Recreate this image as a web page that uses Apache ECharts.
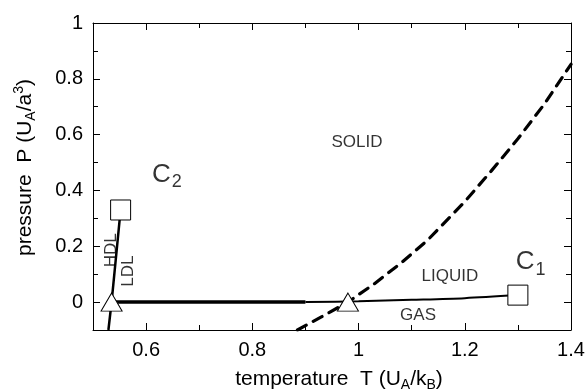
<!DOCTYPE html>
<html>
<head>
<meta charset="utf-8">
<script src="https://cdn.jsdelivr.net/npm/echarts@6/dist/echarts.min.js"></script>
<style>
  html, body { margin: 0; padding: 0; background: #fff; }
  #chart { width: 587px; height: 391px; }
</style>
</head>
<body>
<div id="chart"></div>
<script>
// liquid-gas coexistence line (thick part, then thin part up to C1)
const lgThick = [[0.535, 0], [0.9, 0]];
const lgThin = [[0.9, 0], [1.0, 0.003], [1.1, 0.008], [1.2, 0.014], [1.3, 0.025]];
// LDL-HDL coexistence line up to C2
const ldlHdl = [[0.529, -0.1], [0.535, 0], [0.552, 0.33]];
// melting line (dashed)
const melting = [
  [0.885, -0.1], [0.93, -0.053], [0.98, 0], [1.03, 0.066], [1.08, 0.14],
  [1.13, 0.222], [1.2, 0.36], [1.25, 0.47], [1.3, 0.585], [1.35, 0.71], [1.4, 0.852]
];
// critical points and triple points
const critical = [[1.3, 0.025], [0.552, 0.33]];
const triple = [[0.535, 0], [0.98, 0]];
// region labels: [x, y, text, rotate]
const regionLabels = [
  [0.997, 0.573, "SOLID", 0],
  [1.172, 0.093, "LIQUID", 0],
  [1.112, -0.047, "GAS", 0],
  [0.534, 0.186, "HDL", 90],
  [0.566, 0.111, "LDL", 90]
];
const critLabels = [
  [0.639, 0.45, "C", "2"],
  [1.324, 0.136, "C", "1"]
];

const FONT = "Liberation Sans";
const black = "#000";

const chart = echarts.init(document.getElementById("chart"), null, { renderer: "canvas" });

const nameRich = {
  n: { fontSize: 21, fontFamily: FONT, color: black, lineHeight: 26, verticalAlign: "middle" },
  sub: { fontSize: 14, fontFamily: FONT, color: black, lineHeight: 14, verticalAlign: "bottom" },
  sup: { fontSize: 14, fontFamily: FONT, color: black, lineHeight: 14, verticalAlign: "top" }
};

function majorAxis(pos, min, max, labels, extra) {
  return Object.assign({
    type: "value",
    position: pos,
    min: min,
    max: max,
    splitNumber: 5,
    axisLine: { show: true, onZero: false, lineStyle: { color: black, width: 1 } },
    axisTick: { show: true, inside: true, length: 7, lineStyle: { color: black } },
    axisLabel: labels ? {
      show: true, showMinLabel: false, fontSize: 20, fontFamily: FONT, color: black, margin: 10,
      formatter: v => String(Math.round(v * 10) / 10)
    } : { show: false },
    splitLine: { show: false }
  }, extra || {});
}
function minorAxis(pos, min, max) {
  return {
    type: "value",
    position: pos,
    min: min,
    max: max,
    interval: 0.1,
    axisLine: { show: false, onZero: false },
    axisTick: { show: true, inside: true, length: 5, lineStyle: { color: black } },
    axisLabel: { show: false },
    splitLine: { show: false }
  };
}

const lineBase = { type: "line", xAxisIndex: 0, yAxisIndex: 0, symbol: "none", silent: true, clip: true };

const option = {
  animation: false,
  backgroundColor: "#fff",
  grid: { left: 93, right: 16, top: 23, bottom: 61, containLabel: false, outerBoundsMode: "none" },
  xAxis: [
    majorAxis("bottom", 0.5, 1.4, true, {
      name: "{n|temperature  T (U}{sub|A}{n|/k}{sub|B}{n|)}",
      nameLocation: "middle",
      nameGap: 36,
      nameTextStyle: { rich: nameRich, padding: [0, 0, 0, 14] }
    }),
    minorAxis("bottom", 0.5, 1.4),
    majorAxis("top", 0.5, 1.4, false),
    minorAxis("top", 0.5, 1.4)
  ],
  yAxis: [
    majorAxis("left", -0.1, 1, true, {
      name: "{n|pressure  P (U}{sub|A}{n|/a}{sup|3}{n|)}",
      nameLocation: "middle",
      nameRotate: 90,
      nameGap: 55,
      nameTextStyle: { rich: nameRich, padding: [0, 0, 0, 18] }
    }),
    minorAxis("left", -0.1, 1),
    majorAxis("right", -0.1, 1, false),
    minorAxis("right", -0.1, 1)
  ],
  series: [
    Object.assign({}, lineBase, { data: lgThick, lineStyle: { color: black, width: 3.5 } }),
    Object.assign({}, lineBase, { data: lgThin, smooth: 0.3, lineStyle: { color: black, width: 2 } }),
    Object.assign({}, lineBase, { data: ldlHdl, lineStyle: { color: black, width: 2.5 } }),
    Object.assign({}, lineBase, {
      data: melting,
      lineStyle: { color: black, width: 3.2, type: [10, 8], cap: "round", join: "round" }
    }),
    {
      type: "scatter", data: critical, symbol: "rect", symbolSize: 20, z: 5, silent: true,
      itemStyle: { color: "#fff", borderColor: black, borderWidth: 1, opacity: 1 }
    },
    {
      type: "scatter", data: triple, symbol: "triangle", symbolSize: [21, 18], z: 5, silent: true,
      itemStyle: { color: "#fff", borderColor: black, borderWidth: 1, opacity: 1 }
    },
    {
      type: "scatter", symbolSize: 0, z: 6, silent: true,
      data: regionLabels.map(d => ({
        value: [d[0], d[1]],
        label: { rotate: d[3] }
      })),
      label: {
        show: true, position: "inside", fontSize: 17, fontFamily: FONT, color: black,
        formatter: p => regionLabels[p.dataIndex][2]
      }
    },
    {
      type: "scatter", symbolSize: 0, z: 6, silent: true,
      data: critLabels.map(d => [d[0], d[1]]),
      label: {
        show: true, position: "inside",
        formatter: p => "{c|" + critLabels[p.dataIndex][2] + "}{s|" + critLabels[p.dataIndex][3] + "}",
        rich: {
          c: { fontSize: 26, fontFamily: FONT, color: black, lineHeight: 30, verticalAlign: "top" },
          s: { fontSize: 18, fontFamily: FONT, color: black, lineHeight: 18, verticalAlign: "bottom", padding: [16, 0, 0, 1] }
        }
      }
    }
  ]
};

chart.setOption(option);
</script>
</body>
</html>
